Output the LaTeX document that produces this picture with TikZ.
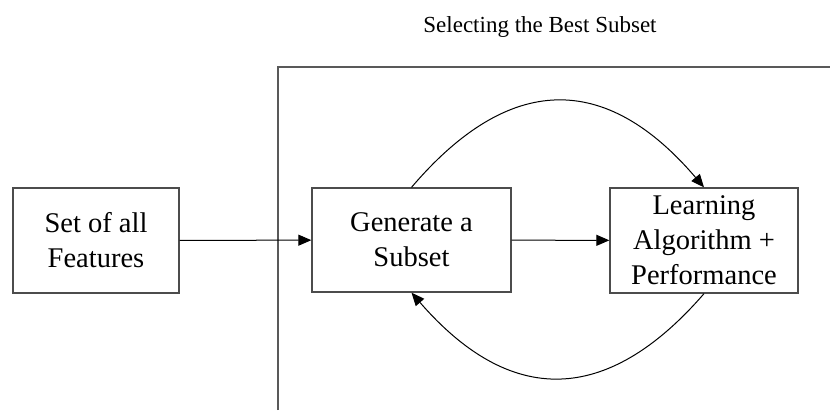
\documentclass[tikz,border=0pt]{standalone}
\usepackage{fontspec}
\setmainfont{Liberation Serif}
\usetikzlibrary{arrows.meta,calc}
\begin{document}
\begin{tikzpicture}[x=1pt,y=-1pt,
  box/.style={draw=black!70,line width=1.3pt,fill=white,align=center,
    inner sep=0pt,font=\fontsize{28.5}{35}\selectfont},
  flow/.style={draw=black,line width=1pt,
    -{Triangle[length=13pt,width=11pt]}},
  frame/.style={draw=black!65,line width=1.8pt}]
\useasboundingbox (0,0) rectangle (830,410);
\fill[white] (0,0) rectangle (830,410);

% enclosing frame of the selection stage (open to the right and below)
\coordinate (fb) at (278,410);
\coordinate (fc) at (278,67);
\coordinate (fr) at (830,67);
\draw[frame] (fb) -- (fc) -- (fr);

\node[font=\fontsize{23}{28}\selectfont] (title) at (540,27) {Selecting the Best Subset};

\node[box,minimum width=166pt,minimum height=105pt] (all) at (96,240.5) {Set of all\\Features};
\node[box,minimum width=199pt,minimum height=104pt] (gen) at (411.5,240) {Generate a\\Subset};
\node[box,minimum width=188pt,minimum height=105pt] (learn) at (704,240.5) {Learning\\Algorithm +\\Performance};

\draw[flow] (all) -- (gen);
\draw[flow] (gen) -- (learn);
\draw[flow] (gen.north) .. controls ($(gen.north)+(98,-115)$) and ($(learn.north)+(-98,-115)$) .. (learn.north);
\draw[flow] (learn.south) .. controls ($(learn.south)+(-98,113)$) and ($(gen.south)+(98,113)$) .. (gen.south);
\end{tikzpicture}
\end{document}
